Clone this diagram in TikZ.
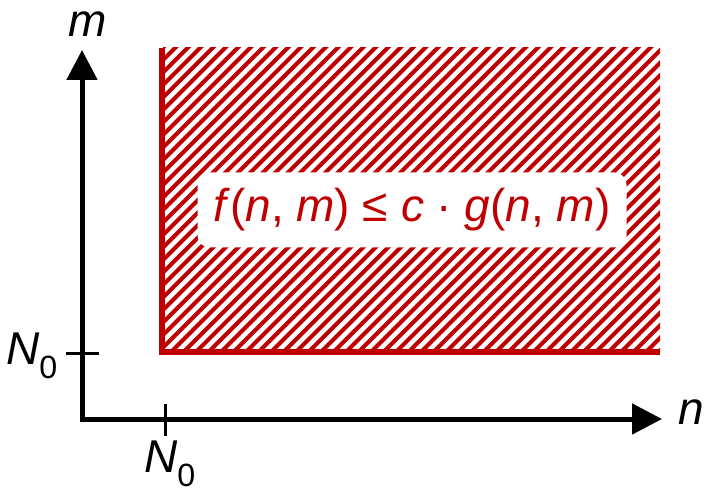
\documentclass[tikz,border=0pt]{standalone}
\usepackage{fontspec}
\setmainfont{Liberation Sans}
\definecolor{dred}{HTML}{C00000}
\begin{document}
\begin{tikzpicture}[x=1pt,y=-1pt,
  axis/.style={line width=5pt,-{Triangle[length=30pt,width=30pt]}},
  tick/.style={line width=3pt},
  lab/.style={font=\fontsize{46}{50}\selectfont\itshape, inner sep=0pt},
  bound/.style={dred,line width=6pt},
  hatchline/.style={dred,line width=4pt}]
\usetikzlibrary{arrows.meta}
\useasboundingbox (0,0) rectangle (707,489);
% hatch region
\begin{scope}
  \clip (163,48) rectangle (660,352);
  \foreach \k in {-40,...,70} {
    \draw[hatchline] (163+\k*12.5,360) -- ++(330,-330);
  }
\end{scope}
% boundary
\coordinate (top) at (162,48);
\coordinate (corner) at (162,352);
\coordinate (right) at (660,352);
\draw[bound] (top) -- (corner) -- (right);
% axes
\coordinate (o) at (82,419);
\coordinate (ytip) at (82,50);
\coordinate (xtip) at (662,419);
\draw[axis] (o) ++(0,2.5) -- (ytip);
\draw[axis] (o) ++(-2.5,0) -- (xtip);
% ticks
\coordinate (yt) at (82,353);
\coordinate (xt) at (165,419);
\draw[tick] (yt) ++(-16,0) -- ++(33,0);
\draw[tick] (xt) ++(0,-15) -- ++(0,32);
% labels
\node[lab] (m) at (88,24) {m};
\node[lab] (n) at (691,412) {n};
\node[lab] (ny) at (32,356) {N\textsubscript{\upshape 0}};
\node[lab] (nx) at (170,464) {N\textsubscript{\upshape 0}};
% formula
\node[fill=white, rounded corners=12pt, minimum width=429pt, minimum height=75pt, text=dred,
  font=\fontsize{46}{50}\selectfont] (f) at (412,210)
  {\textit{f}(\textit{n}, \textit{m}) ≤ \textit{c} · \textit{g}(\textit{n}, \textit{m})};
\end{tikzpicture}
\end{document}
